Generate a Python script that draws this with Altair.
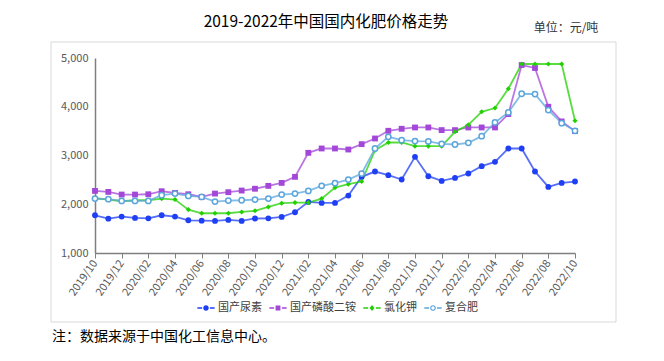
import altair as alt
import pandas as pd

# ---------------- data ----------------
months = [
    "2019/10", "2019/11", "2019/12",
    "2020/01", "2020/02", "2020/03", "2020/04", "2020/05", "2020/06",
    "2020/07", "2020/08", "2020/09", "2020/10", "2020/11", "2020/12",
    "2021/01", "2021/02", "2021/03", "2021/04", "2021/05", "2021/06",
    "2021/07", "2021/08", "2021/09", "2021/10", "2021/11", "2021/12",
    "2022/01", "2022/02", "2022/03", "2022/04", "2022/05", "2022/06",
    "2022/07", "2022/08", "2022/09", "2022/10",
]
tick_months = [
    "2019/10", "2019/12", "2020/02", "2020/04", "2020/06", "2020/08",
    "2020/10", "2020/12", "2021/02", "2021/04", "2021/06", "2021/08",
    "2021/10", "2021/12", "2022/02", "2022/04", "2022/06", "2022/08",
    "2022/10",
]
urea = [1774, 1705, 1747,
        1719, 1712, 1774, 1747, 1671, 1664, 1658, 1678, 1658, 1708, 1712, 1740,
        1836, 2048, 2027, 2027, 2178, 2562, 2671, 2596, 2507, 2973, 2575, 2479,
        2541, 2630, 2781, 2870, 3144, 3144, 2671, 2356, 2438, 2466]
dap = [2274, 2253, 2199,
       2199, 2205, 2267, 2233, 2205, 2151, 2219, 2247, 2281, 2318, 2377, 2438,
       2562, 3055, 3144, 3144, 3123, 3233, 3349, 3507, 3548, 3575, 3575, 3521,
       3521, 3575, 3575, 3575, 3849, 4856, 4795, 4000, 3699, 3500]
kcl = [2123, 2096, 2062,
       2082, 2082, 2116, 2096, 1890, 1815, 1815, 1815, 1842, 1866, 1945, 2021,
       2034, 2034, 2116, 2342, 2411, 2466, 3110, 3267, 3267, 3192, 3192, 3192,
       3486, 3630, 3897, 3973, 4370, 4877, 4877, 4877, 4877, 3712]
compound = [2116, 2103, 2068,
            2068, 2068, 2185, 2219, 2171, 2151, 2055, 2075, 2082, 2096, 2116, 2199,
            2219, 2274, 2377, 2432, 2507, 2630, 3144, 3384, 3315, 3295, 3288, 3240,
            3226, 3260, 3397, 3678, 3884, 4267, 4260, 3932, 3664, 3507]

series_names = ["国产尿素", "国产磷酸二铵", "氯化钾", "复合肥"]
series_values = [urea, dap, kcl, compound]
series_colors = ["#1f3ff5", "#a347d8", "#22d000", "#5aa5dc"]
y_ticks = [1000, 2000, 3000, 4000, 5000]

title_text = "2019-2022年中国国内化肥价格走势"
unit_text = "单位：元/吨"
note_text = "注：数据来源于中国化工信息中心。"

# ---------------- build table ----------------
rows = []
for name, vals in zip(series_names, series_values):
    for m, v in zip(months, vals):
        rows.append({"month": m, "series": name, "price": v})
df = pd.DataFrame(rows)
one = pd.DataFrame({"k": [0]})

FONT = "Noto Sans CJK SC"
W, H = 480, 195
AXIS_COLOR = "#7f7f7f"
LABEL_COLOR = "#595959"

x = alt.X(
    "month:O",
    sort=months,
    scale=alt.Scale(type="point", domain=months, padding=0),
    axis=alt.Axis(
        values=tick_months, title=None, labelAngle=-55, labelAlign="right",
        labelBaseline="middle", labelFont=FONT, labelFontSize=11,
        labelColor=LABEL_COLOR, labelPadding=3, tickSize=5, tickColor=AXIS_COLOR,
        domainColor=AXIS_COLOR, domainWidth=1.5, grid=False,
    ),
)
y = alt.Y(
    "price:Q",
    scale=alt.Scale(domain=[1000, 5000], nice=False, zero=False),
    axis=alt.Axis(
        values=y_ticks, format=",.0f", title=None, ticks=False, grid=False,
        labelFont=FONT, labelFontSize=11, labelColor=LABEL_COLOR, labelPadding=7,
        domainColor=AXIS_COLOR, domainWidth=1.5,
    ),
)

# frame around chart area
frame = alt.Chart(one).mark_rect(
    fillOpacity=0, stroke="#d9d9d9", strokeWidth=1
).encode(x=alt.value(-44), x2=alt.value(521), y=alt.value(-16), y2=alt.value(264))

line_layers = []
point_shapes = ["circle", "square", "diamond", "circle"]
point_sizes = [34, 34, 26, 28]
point_layers = []
for i, name in enumerate(series_names):
    base = alt.Chart(df).transform_filter(alt.datum.series == name)
    line_layers.append(
        base.mark_line(strokeWidth=1.8, opacity=0.75, color=series_colors[i]).encode(x=x, y=y)
    )
    if i == 3:
        mk = base.mark_point(shape="circle", filled=True, fill="white",
                             stroke=series_colors[i], strokeWidth=1.5,
                             size=point_sizes[i], opacity=1)
    else:
        mk = base.mark_point(shape=point_shapes[i], filled=True,
                             color=series_colors[i], size=point_sizes[i], opacity=1)
    point_layers.append(mk.encode(x=x, y=y))

# legend symbols: dash - marker - dash (all filled geometry)
dash = "M-1,-0.08H-0.45V0.08H-1Z M0.45,-0.08H1V0.08H0.45Z "
legend_paths = [
    dash + "M-0.32,0A0.32,0.32 0 1,1 0.32,0A0.32,0.32 0 1,1 -0.32,0Z",
    dash + "M-0.28,-0.28H0.28V0.28H-0.28Z",
    dash + "M0,-0.34L0.28,0L0,0.34L-0.28,0Z",
    dash + "M-0.33,0A0.33,0.33 0 1,1 0.33,0A0.33,0.33 0 1,1 -0.33,0Z "
           "M-0.19,0A0.19,0.19 0 1,0 0.19,0A0.19,0.19 0 1,0 -0.19,0Z",
]
legend_def = alt.Legend(
    orient="none", legendX=102, legendY=241, direction="horizontal", title=None,
    symbolSize=300, symbolStrokeWidth=0, labelFont=FONT, labelFontSize=11,
    labelColor="#404040", labelOffset=3, columnPadding=7, padding=0,
)
legend_layer = alt.Chart(df).transform_filter("false").mark_point(
    filled=True, opacity=1, size=300
).encode(
    x=x, y=y,
    color=alt.Color("series:N", scale=alt.Scale(domain=series_names, range=series_colors), legend=legend_def),
    shape=alt.Shape("series:N", scale=alt.Scale(domain=series_names, range=legend_paths), legend=legend_def),
)

title = alt.Chart(one).mark_text(
    text=title_text, font=FONT, fontSize=15.5, color="#000000", align="center", baseline="alphabetic"
).encode(x=alt.value(231), y=alt.value(-31.5))
unit = alt.Chart(one).mark_text(
    text=unit_text, font=FONT, fontSize=12, color="#333333", align="center", baseline="middle"
).encode(x=alt.value(471), y=alt.value(-30))
note = alt.Chart(one).mark_text(
    text=note_text, font=FONT, fontSize=14, color="#000000", align="left", baseline="middle"
).encode(x=alt.value(-43), y=alt.value(279))

chart = alt.layer(frame, *line_layers, *point_layers, legend_layer, title, unit, note).properties(
    width=W, height=H,
    autosize=alt.AutoSizeParams(type="none"),
    padding={"left": 87, "top": 50, "right": 70, "bottom": 100},
).configure_view(strokeWidth=0)

chart.save("out.html", embed_options={"renderer": "svg", "actions": False})
